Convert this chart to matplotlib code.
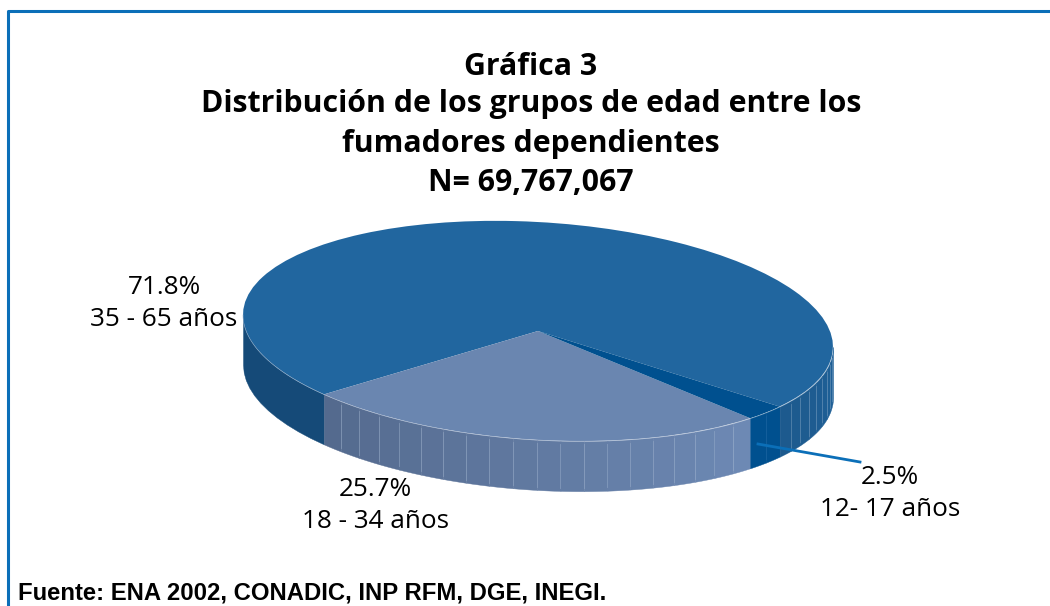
import matplotlib
matplotlib.use("Agg")
import matplotlib.pyplot as plt
from matplotlib.transforms import Affine2D
import numpy as np

shares = [71.8, 25.7, 2.5]
pct_labels = ["71.8%", "25.7%", "2.5%"]
age_labels = ["35 - 65 años", "18 - 34 años", "12- 17 años"]
top_colors = ["#21669f", "#6a86b0", "#00508f"]
title_lines = ["Gráfica 3", "Distribución de los grupos de edad entre los",
               "fumadores dependientes", "N= 69,767,067"]
source = "Fuente: ENA 2002, CONADIC, INP RFM, DGE, INEGI."

W, H = 1050, 606
cx, cy, rx, ry = 538, 331, 295, 109
depth = 50 / ry
start = -35
tilt = -16 / ry

fig = plt.figure(figsize=(W / 100, H / 100), dpi=100)
ax = fig.add_axes([0, 0, 1, 1])

# the pie in the reference is a slightly tilted ellipse
skew = Affine2D(np.array([[1, 0, 0], [tilt, 1, 0], [0, 0, 1]])) + ax.transData


def fx(px):
    return px / W


def fy(py):
    return 1 - py / H


def wall(a0, a1, c0, c1, nfacets, line="#9fb4d0"):
    # side of the pie between two angles, split in flat facets
    edges = np.linspace(a0, a1, nfacets + 1)
    for i in range(nfacets):
        t = np.radians(np.linspace(edges[i], edges[i + 1], 12))
        mix = i / max(nfacets - 1, 1)
        col = np.array(matplotlib.colors.to_rgb(c0)) * (1 - mix) + np.array(matplotlib.colors.to_rgb(c1)) * mix
        ax.fill_between(np.cos(t), np.sin(t), np.sin(t) - depth, color=col, lw=0.3, zorder=1, transform=skew)
        if i > 0 and line:
            e = np.radians(edges[i])
            ax.plot([np.cos(e)] * 2, [np.sin(e) - 0.03, np.sin(e) - depth + 0.03], color=line, lw=0.6,
                    alpha=0.5, zorder=2, transform=skew)


angles = np.cumsum([0] + shares) * 3.6 + start
big_end, light_end = angles[1], angles[2]

wall(180, big_end, "#154a78", "#154a78", 1, None)
wall(big_end, light_end, "#546a8e", "#6d89b4", 20)
wall(light_end, angles[3], "#00508f", "#00508f", 2, "#1f6aa5")
wall(angles[3], 360, "#1d5a8e", "#1f6097", 9, "#7fa3c4")

wedges, _ = ax.pie(shares, colors=top_colors, startangle=start, counterclock=True,
                   radius=1, wedgeprops={"linewidth": 0})
for w in wedges:
    w.set_zorder(3)
    w.set_transform(skew)

# thin light rim on the front edge of the top face
t = np.radians(np.linspace(180, big_end, 30))
ax.plot(np.cos(t), np.sin(t), color="#9db6d0", lw=0.4, zorder=4, transform=skew)
t = np.radians(np.linspace(big_end, light_end, 60))
ax.plot(np.cos(t), np.sin(t), color="#c3d0e2", lw=0.4, alpha=0.6, zorder=4, transform=skew)
t = np.radians(np.linspace(angles[3], 360, 30))
ax.plot(np.cos(t), np.sin(t), color="#a9c1d8", lw=0.4, zorder=4, transform=skew)

ax.set_aspect("auto")
ax.set_xlim(-cx / rx, (W - cx) / rx)
ax.set_ylim(-(H - cy) / ry, cy / ry)
ax.axis("off")

# frame: only top and left lines
fig.add_artist(plt.Line2D([fx(8), fx(8), fx(W)], [fy(H), fy(11), fy(11)], color="#0b6fb8", lw=2.2))
# leader line of the small slice
fig.add_artist(plt.Line2D([fx(758), fx(860)], [fy(444), fy(462)], color="#0b6fb8", lw=2, zorder=10))

for py, line in zip([67, 104, 144, 183], title_lines):
    fig.text(fx(531), fy(py), line, ha="center", va="center", family="Open Sans",
             fontweight="bold", fontsize=21.8, color="black")

label_pos = [(164, 288, 319), (375, 489, 521), (890, 477, 510)]
for (px, py1, py2), pct, age in zip(label_pos, pct_labels, age_labels):
    fig.text(fx(px), fy(py1), pct, ha="center", va="center", family="Open Sans", fontsize=18.8)
    fig.text(fx(px), fy(py2), age, ha="center", va="center", family="Open Sans", fontsize=18.8)

fig.text(fx(18), fy(593), source, ha="left", va="center", family="Liberation Sans",
         fontweight="bold", fontsize=17.2)

fig.savefig("out.png", dpi=100)
